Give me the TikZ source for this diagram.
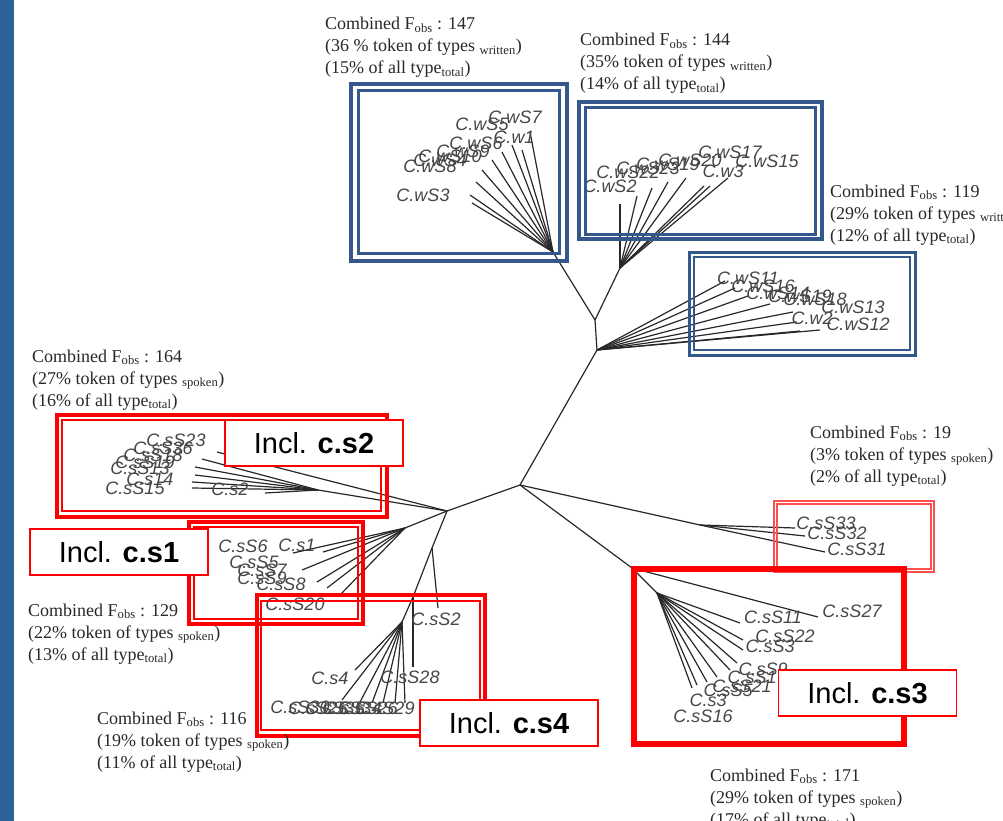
\documentclass[tikz,border=0pt]{standalone}
\usepackage{fontspec}
\setmainfont{Liberation Serif}
\newfontfamily\arialfont{Liberation Sans}
\definecolor{leftbar}{RGB}{46,99,153}
\definecolor{wframe}{RGB}{52,88,140}
\definecolor{edgec}{RGB}{40,40,40}
\definecolor{leafc}{RGB}{70,70,70}
\definecolor{annoc}{RGB}{40,40,40}
\definecolor{lightred}{RGB}{250,80,80}
\tikzset{
 edge/.style={draw=edgec, line width=1.2pt},
 leaf/.style={font=\arialfont\itshape\fontsize{18}{18}\selectfont, text=leafc, inner sep=0pt},
 anno/.style={font=\fontsize{18}{22}\selectfont, text=annoc, inner sep=0pt, anchor=base west},
 incl/.style={draw=red, line width=1.5pt, fill=white, font=\arialfont\fontsize{29}{29}\selectfont, inner sep=0pt, minimum width=178pt, minimum height=46pt},
 wout/.style={draw=wframe, line width=4pt},
 win/.style={draw=wframe, line width=3pt},
 rout/.style={draw=red, line width=3.5pt},
 rin/.style={draw=red, line width=2.5pt},
 rthin/.style={draw=lightred, line width=1.2pt},
}
\newcommand\annoblock[6]{%
  \node[anno] (#3a) at (#1,#2) {#4};
  \node[anno] (#3b) at (#1,#2+22) {#5};
  \node[anno] (#3c) at (#1,#2+44) {#6};
}
\begin{document}
\begin{tikzpicture}[x=1pt,y=-1pt]
\useasboundingbox (0,0) rectangle (1003,821);
\clip (0,0) rectangle (1003,821);
\fill[leftbar] (0,0) rectangle (14,821);

% internal nodes
\coordinate (A) at (520,485);
\coordinate (B) at (597,350);
\coordinate (C) at (595,320);
\coordinate (h1) at (553,252);
\coordinate (h2) at (620,268);
\coordinate (D) at (447,511);
\coordinate (h4) at (318,490);
\coordinate (h5) at (405,528);
\coordinate (E) at (432,548);
\coordinate (F) at (413,597);
\coordinate (h6) at (402,622);
\coordinate (J) at (632,568);
\coordinate (h7) at (657,593);
\coordinate (G) at (700,525);

\draw[edge] (A) -- (B); \draw[edge] (B) -- (C);
\draw[edge] (C) -- (h1); \draw[edge] (C) -- (h2);
\draw[edge] (A) -- (D); \draw[edge] (D) -- (h4);
\draw[edge] (D) -- (h5); \draw[edge] (D) -- (E);
\draw[edge] (E) -- (F); \draw[edge] (F) -- (h6);
\draw[edge] (A) -- (J); \draw[edge] (J) -- (h7);
\draw[edge] (A) -- (G);

% leaves
\foreach \x/\y [count=\i] in {530/132,522/150,512/145,502/152,492/160,482/170,476/182,470/195,472/203}
  {\coordinate (wa\i) at (\x,\y); \draw[edge] (h1) -- (wa\i);}
\foreach \x/\y [count=\i] in {620/204,637/196,652/188,668/182,686/178,704/186,710/186,728/178}
  {\coordinate (wb\i) at (\x,\y); \draw[edge] (h2) -- (wb\i);}
\foreach \x/\y [count=\i] in {725/281,735/288,748/296,770/304,793/312,797/322,820/330,800/331}
  {\coordinate (wc\i) at (\x,\y); \draw[edge] (B) -- (wc\i);}
\foreach \x/\y [count=\i] in {202/459,195/467,195/475,192/482,192/488,265/493}
  {\coordinate (sa\i) at (\x,\y); \draw[edge] (h4) -- (sa\i);}
\coordinate (sa0) at (217,452); \draw[edge] (D) -- (sa0);
\foreach \x/\y [count=\i] in {293/553,323/552,302/570,317/582,327/588,340/595}
  {\coordinate (sb\i) at (\x,\y); \draw[edge] (h5) -- (sb\i);}
\coordinate (sc0) at (438,608); \draw[edge] (E) -- (sc0);
\coordinate (sc9) at (413,667); \draw[edge] (F) -- (sc9);
\foreach \x/\y [count=\i] in {355/670,342/700,360/702,372/703,383/703,395/703,405/703}
  {\coordinate (sc\i) at (\x,\y); \draw[edge] (h6) -- (sc\i);}
\coordinate (sd0) at (818,617); \draw[edge] (J) -- (sd0);
\foreach \x/\y [count=\i] in {740/623,743/640,743/650,737/663,730/670,717/677,707/682,697/685,692/688}
  {\coordinate (sd\i) at (\x,\y); \draw[edge] (h7) -- (sd\i);}
\foreach \x/\y [count=\i] in {795/528,805/536,825/552}
  {\coordinate (se\i) at (\x,\y); \draw[edge] (G) -- (se\i);}

% leaf labels
\foreach \t/\x/\y [count=\i] in {C.wS7/515/117,C.wS5/482/124,C.w1/514/137,C.wS6/476/143,C.wS9/463/151,C.wS10/450/156,C.wS4/440/160,C.wS8/430/166,C.wS3/423/195}
  {\node[leaf] (lwa\i) at (\x,\y) {\t};}
\foreach \t/\x/\y [count=\i] in {C.wS2/610/186,C.wS22/628/172,C.wS23/648/168,C.wS19/668/164,C.wS20/690/160,C.wS17/730/152,C.wS15/767/161,C.w3/723/171}
  {\node[leaf] (lwb\i) at (\x,\y) {\t};}
\foreach \t/\x/\y [count=\i] in {C.wS11/748/278,C.wS16/763/286,C.wS14/778/293,C.wS19/800/296,C.wS18/815/299,C.wS13/853/307,C.w2/812/318,C.wS12/858/324}
  {\node[leaf] (lwc\i) at (\x,\y) {\t};}
\foreach \t/\x/\y [count=\i] in {C.sS23/176/440,C.sS36/163/448,C.sS18/153/455,C.sS19/145/462,C.sS13/140/468,C.s14/150/479,C.sS15/135/488,C.s2/230/489}
  {\node[leaf] (lsa\i) at (\x,\y) {\t};}
\foreach \t/\x/\y [count=\i] in {C.sS6/243/546,C.s1/297/545,C.sS5/254/562,C.sS7/262/570,C.sS9/262/578,C.sS8/281/584,C.sS20/295/604}
  {\node[leaf] (lsb\i) at (\x,\y) {\t};}
\foreach \t/\x/\y [count=\i] in {C.sS2/436/619,C.s4/330/678,C.sS28/410/677,C.sS30/300/707,C.sS25/318/708,C.sS35/335/708,C.sS34/352/708,C.sS26/368/708,C.sS29/385/708}
  {\node[leaf] (lsc\i) at (\x,\y) {\t};}
\foreach \t/\x/\y [count=\i] in {C.sS27/852/611,C.sS11/773/617,C.sS22/785/636,C.sS3/770/646,C.sS9/763/669,C.sS1/752/677,C.sS21/742/686,C.sS5/728/690,C.s3/708/700,C.sS16/703/716}
  {\node[leaf] (lsd\i) at (\x,\y) {\t};}
\foreach \t/\x/\y [count=\i] in {C.sS33/826/523,C.sS32/837/533,C.sS31/857/549}
  {\node[leaf] (lse\i) at (\x,\y) {\t};}

% frames
\draw[wout] (351,84) rectangle (567,261);
\draw[win] (358,91) rectangle (559,253);
\draw[wout] (579,102) rectangle (822,239);
\draw[win] (585,108) rectangle (815,234);
\draw[draw=wframe, line width=3pt] (689,252) rectangle (915,355);
\draw[draw=wframe, line width=2pt] (694,257) rectangle (910,350);
\draw[rout] (57,415) rectangle (387,517);
\draw[rin] (62,420) rectangle (381,511);
\draw[rout] (189,522) rectangle (363,624);
\draw[rin] (194,527) rectangle (358,619);
\draw[rout] (257,595) rectangle (485,736);
\draw[rin] (261,601) rectangle (480,730);
\draw[rthin] (774,501) rectangle (934,572);
\draw[rthin] (777,504) rectangle (931,569);
\draw[draw=red, line width=6pt] (634,569) rectangle (904,744);

% Incl boxes
\node[incl] (i2) at (314,443) {Incl. \textbf{c.s2}};
\node[incl] (i1) at (119,552) {Incl. \textbf{c.s1}};
\node[incl] (i4) at (509,723) {Incl. \textbf{c.s4}};
\node[incl] (i3) at (867.5,693) {Incl. \textbf{c.s3}};

% annotations
\annoblock{325}{30}{n1}{Combined F\textsubscript{obs} : 147}{(36 \% token of types \textsubscript{written})}{(15\% of all type\textsubscript{total})}
\annoblock{580}{46}{n2}{Combined F\textsubscript{obs} : 144}{(35\% token of types \textsubscript{written})}{(14\% of all type\textsubscript{total})}
\annoblock{830}{197}{n3}{Combined F\textsubscript{obs} : 119}{(29\% token of types \textsubscript{written})}{(12\% of all type\textsubscript{total})}
\annoblock{32}{362}{n4}{Combined F\textsubscript{obs} : 164}{(27\% token of types \textsubscript{spoken})}{(16\% of all type\textsubscript{total})}
\annoblock{810}{438}{n5}{Combined F\textsubscript{obs} : 19}{(3\% token of types \textsubscript{spoken})}{(2\% of all type\textsubscript{total})}
\annoblock{28}{616}{n6}{Combined F\textsubscript{obs} : 129}{(22\% token of types \textsubscript{spoken})}{(13\% of all type\textsubscript{total})}
\annoblock{97}{724}{n7}{Combined F\textsubscript{obs} : 116}{(19\% token of types \textsubscript{spoken})}{(11\% of all type\textsubscript{total})}
\annoblock{710}{781}{n8}{Combined F\textsubscript{obs} : 171}{(29\% token of types \textsubscript{spoken})}{(17\% of all type\textsubscript{total})}
\end{tikzpicture}
\end{document}
